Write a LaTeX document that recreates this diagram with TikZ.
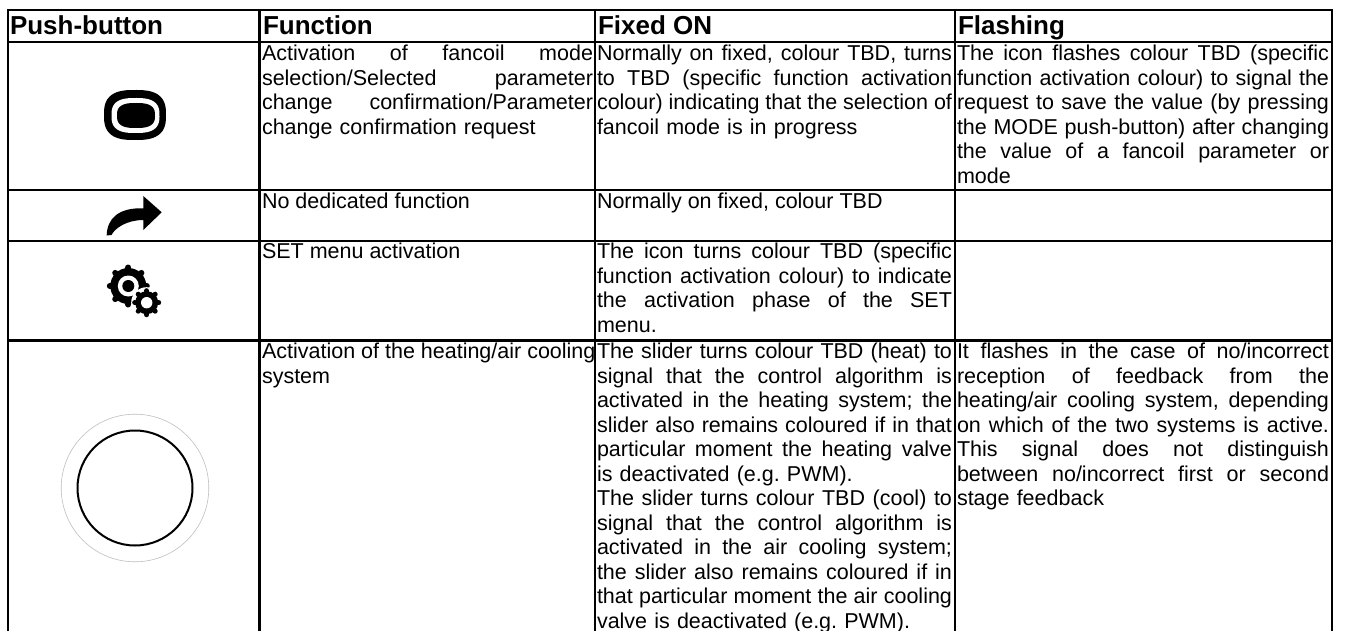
\documentclass[tikz,border=0pt]{standalone}
\usepackage{fontspec}
\setmainfont{Liberation Sans}
\newdimen\cw
\newcommand\JL[1]{\hbox to \cw{\spaceskip=0.278em plus 1fil\relax #1}\par}
\newcommand\PL[1]{\hbox{#1}\par}
% superellipse: cx cy a b
\newcommand\sell[5]{\fill[#5] plot[samples=73,domain=1:361] ({#1+(#3)*sign(cos(\x))*abs(cos(\x))^0.72},{#2+(#4)*sign(sin(\x))*abs(sin(\x))^0.72}) -- cycle;}
% gear: cx cy root-radius tip-radius tooth-width start-angle
\newcommand\mygear[6]{%
  \fill[black] (#1,#2) circle (#3);
  \foreach \a in {0,45,...,315}{
    \draw[black,line width=#5pt,line cap=round] ({#1+(#3)*cos(\a+#6)},{#2+(#3)*sin(\a+#6)}) -- ({#1+(#4-#5/2)*cos(\a+#6)},{#2+(#4-#5/2)*sin(\a+#6)});
  }}
\tikzset{
  x=1pt,y=-1pt,
  gridline/.style={line width=2.8pt,black,line cap=rect},
  cell/.style={anchor=north west,inner sep=0pt,outer sep=0pt,font=\fontsize{21.5}{24.5}\selectfont\frenchspacing},
  hcell/.style={anchor=base west,inner sep=0pt,outer sep=0pt,font=\bfseries\fontsize{26}{28}\selectfont}
}
\begin{document}
\begin{tikzpicture}
\useasboundingbox (0,0) rectangle (1346,631);
\fill[white] (0,0) rectangle (1346,631);
% grid
\foreach \y in {10,42,190,241,340.5} \draw[gridline] (8,\y) -- (1332,\y);
\foreach \x in {8,259.5,595,955,1332} \draw[line width=2.8pt,black] (\x,10) -- (\x,631);
% headers
\node[hcell] (h1) at (10,35) {Push-button};
\node[hcell] (h2) at (263,35) {Function};
\node[hcell] (h3) at (598,35) {Fixed ON};
\node[hcell] (h4) at (958,35) {Flashing};
% row 1
\node[cell,text width=331pt] (r1c2) at (262,45) {\cw=331pt \JL{Activation of fancoil mode}\JL{selection/Selected parameter}\JL{change confirmation/Parameter}\PL{change confirmation request}};
\node[cell,text width=355pt] (r1c3) at (597,45) {\cw=355pt \JL{Normally on fixed, colour TBD, turns}\JL{to TBD (specific function activation}\JL{colour) indicating that the selection of}\PL{fancoil mode is in progress}};
\node[cell,text width=372pt] (r1c4) at (957,45) {\cw=372pt \JL{The icon flashes colour TBD (specific}\JL{function activation colour) to signal the}\JL{request to save the value (by pressing}\JL{the MODE push-button) after changing}\JL{the value of a fancoil parameter or}\PL{mode}};
% row 2
\node[cell] (r2c2) at (262,193) {No dedicated function};
\node[cell] (r2c3) at (597,193) {Normally on fixed, colour TBD};
% row 3
\node[cell] (r3c2) at (262,243) {SET menu activation};
\node[cell,text width=355pt] (r3c3) at (597,243) {\cw=355pt \JL{The icon turns colour TBD (specific}\JL{function activation colour) to indicate}\JL{the activation phase of the SET}\PL{menu.}};
% row 4
\node[cell,text width=331pt] (r4c2) at (262,343) {\cw=331pt \JL{Activation of the heating/air cooling}\PL{system}};
\node[cell,text width=355pt] (r4c3) at (597,343) {\cw=355pt \JL{The slider turns colour TBD (heat) to}\JL{signal that the control algorithm is}\JL{activated in the heating system; the}\JL{slider also remains coloured if in that}\JL{particular moment the heating valve}\PL{is deactivated (e.g. PWM).}\JL{The slider turns colour TBD (cool) to}\JL{signal that the control algorithm is}\JL{activated in the air cooling system;}\JL{the slider also remains coloured if in}\JL{that particular moment the air cooling}\PL{valve is deactivated (e.g. PWM).}};
\node[cell,text width=372pt] (r4c4) at (957,343) {\cw=372pt \JL{It flashes in the case of no/incorrect}\JL{reception of feedback from the}\JL{heating/air cooling system, depending}\JL{on which of the two systems is active.}\JL{This signal does not distinguish}\JL{between no/incorrect first or second}\PL{stage feedback}};
% icon 1
\sell{135}{115}{31}{25}{black}
\sell{135.5}{115.5}{24}{17.5}{white}
\sell{136}{115.5}{19}{12.5}{black}
% arrow
\fill[black] (161.7,212.3) -- (143.3,196) -- (143.3,208.3) .. controls (118,207.5) and (107,219) .. (106.7,235.5) -- (111.5,235) .. controls (115,228) and (127,220) .. (143.3,220) -- (143.3,230) -- cycle;
% gears
\mygear{128.3}{286}{18}{21.5}{6}{0}
\fill[white] (128.3,286) circle (10.5);
\fill[black] (128.3,286) circle (6);
\fill[white] (146.7,302.7) circle (15.5);
\mygear{146.7}{302.7}{11.5}{14.5}{5}{0}
\fill[white] (146.7,302.7) circle (5.7);
% circles
\draw[line width=0.6pt,black!25] (135,488) circle (73.8);
\draw[line width=2pt,black] (135,488) circle (57.5);
\end{tikzpicture}
\end{document}
